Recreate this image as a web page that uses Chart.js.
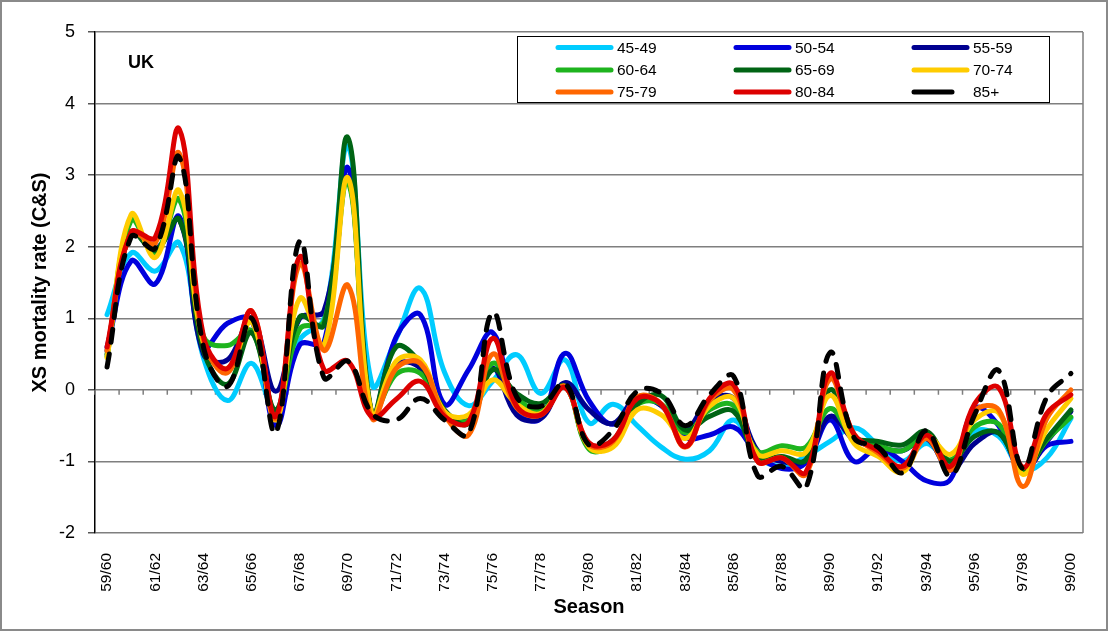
<!DOCTYPE html>
<html>
<head>
<meta charset="utf-8">
<script src="https://cdn.jsdelivr.net/npm/chart.js@4.4.1/dist/chart.umd.min.js"></script>
<style>
  html, body { margin: 0; padding: 0; background: #fff; }
  canvas { display: block; }
</style>
</head>
<body>
<canvas id="grafico" width="1108" height="631"></canvas>
<script>
const seasons = ['59/60', '60/61', '61/62', '62/63', '63/64', '64/65', '65/66', '66/67', '67/68', '68/69',
  '69/70', '70/71', '71/72', '72/73', '73/74', '74/75', '75/76', '76/77', '77/78', '78/79',
  '79/80', '80/81', '81/82', '82/83', '83/84', '84/85', '85/86', '86/87', '87/88', '88/89',
  '89/90', '90/91', '91/92', '92/93', '93/94', '94/95', '95/96', '96/97', '97/98', '98/99', '99/00'];

const ageGroups = ['45-49', '50-54', '55-59', '60-64', '65-69', '70-74', '75-79', '80-84', '85+'];
const colores = ['#00ccff', '#0000dd', '#000090', '#1eb41e', '#006414', '#ffcc00', '#ff6600', '#dd0000', '#000000'];

const s4549 = [1.05, 1.91, 1.66, 2.05, 0.45, -0.15, 0.37, -0.3, 0.7, 1.0, 3.4, 0.07, 0.72, 1.42, 0.25, -0.22, 0.12, 0.49, -0.05, 0.42,
  -0.46, -0.2, -0.5, -0.8, -0.97, -0.85, -0.42, -0.93, -1.07, -0.93, -0.72, -0.53, -0.77, -1.0, -0.75, -1.0, -0.58, -0.65, -1.12, -0.95, -0.4];
const s5054 = [0.6, 1.8, 1.48, 2.42, 0.6, 0.93, 0.97, -0.5, 0.63, 0.66, 3.1, -0.35, 0.74, 1.05, -0.2, 0.28, 0.8, -0.3, -0.4, 0.51,
  -0.15, -0.48, -0.15, -0.22, -0.66, -0.63, -0.52, -0.9, -1.1, -1.02, -0.42, -1.0, -0.82, -1.0, -1.27, -1.25, -0.26, -0.5, -1.15, -0.78, -0.72];
const s5559 = [0.55, 2.2, 1.97, 2.38, 0.5, 0.42, 1.0, -0.02, 1.0, 1.1, 2.95, -0.35, 0.35, 0.3, -0.3, -0.4, 0.3, -0.35, -0.4, 0.1,
  -0.28, -0.47, -0.1, -0.22, -0.55, -0.15, -0.12, -0.85, -1.0, -0.98, -0.37, -0.7, -0.8, -0.85, -0.68, -1.12, -0.75, -0.6, -1.12, -0.72, -0.3];
const s6064 = [0.47, 2.37, 1.92, 2.66, 0.75, 0.62, 0.82, -0.3, 0.85, 0.95, 2.9, -0.35, 0.22, 0.23, -0.3, -0.42, 0.37, -0.1, -0.3, 0.05,
  -0.83, -0.75, -0.21, -0.2, -0.6, -0.28, -0.22, -0.86, -0.78, -0.8, -0.26, -0.68, -0.78, -0.85, -0.65, -0.98, -0.52, -0.48, -1.12, -0.7, -0.38];
const s6569 = [0.5, 2.2, 1.95, 2.38, 0.55, 0.08, 0.8, -0.28, 1.02, 0.9, 3.52, -0.35, 0.6, 0.37, -0.28, -0.47, 0.28, -0.05, -0.19, 0.05,
  -0.8, -0.7, -0.2, -0.08, -0.56, -0.37, -0.3, -0.95, -0.93, -0.98, 0.0, -0.65, -0.72, -0.77, -0.58, -1.0, -0.65, -0.6, -1.1, -0.68, -0.28];
const s7074 = [0.45, 2.45, 1.85, 2.78, 0.65, 0.3, 0.95, -0.42, 1.28, 0.62, 2.96, -0.35, 0.4, 0.42, -0.3, -0.35, 0.14, -0.2, -0.33, 0.04,
  -0.8, -0.8, -0.28, -0.35, -0.68, -0.23, -0.12, -0.9, -0.85, -0.87, -0.08, -0.75, -0.93, -1.15, -0.65, -0.9, -0.42, -0.32, -1.18, -0.55, -0.12];
const s7579 = [0.55, 2.2, 2.05, 3.3, 0.7, 0.24, 1.1, -0.4, 1.76, 0.55, 1.46, -0.4, 0.3, 0.37, -0.35, -0.63, 0.5, -0.25, -0.35, 0.05,
  -0.76, -0.72, -0.1, -0.2, -0.8, -0.15, 0.0, -1.0, -0.95, -1.18, 0.15, -0.62, -0.88, -1.1, -0.68, -1.12, -0.3, -0.28, -1.35, -0.4, 0.0];
const s8084 = [0.6, 2.2, 2.13, 3.64, 0.75, 0.3, 1.1, -0.37, 1.86, 0.28, 0.4, -0.38, -0.13, 0.12, -0.37, -0.45, 0.72, -0.23, -0.35, 0.03,
  -0.74, -0.7, -0.12, -0.2, -0.79, -0.12, 0.07, -1.0, -0.95, -1.15, 0.23, -0.62, -0.85, -1.07, -0.63, -1.07, -0.2, 0.03, -1.08, -0.33, -0.07];
const s85plus = [0.32, 2.14, 1.98, 3.25, 0.6, 0.05, 1.0, -0.6, 2.08, 0.17, 0.4, -0.33, -0.42, -0.12, -0.42, -0.62, 1.08, -0.1, -0.23, 0.09,
  -0.77, -0.56, -0.02, -0.05, -0.5, -0.07, 0.19, -1.2, -1.07, -1.37, 0.52, -0.67, -0.8, -1.16, -0.57, -1.2, -0.35, 0.27, -1.1, -0.1, 0.23];

const series = [s4549, s5054, s5559, s6064, s6569, s7074, s7579, s8084, s85plus];

const fuente = "'Liberation Sans', Arial, sans-serif";
Chart.defaults.font.family = fuente;
Chart.defaults.color = '#000';

// marcas del eje de categorias sobre la linea del cero y borde derecho del area
const marcasCero = {
  id: 'marcasCero',
  beforeDatasetsDraw(chart) {
    const { ctx, chartArea, scales } = chart;
    const y0 = scales.y.getPixelForValue(0);
    const paso = chartArea.width / seasons.length;
    ctx.save();
    ctx.strokeStyle = '#7f7f7f';
    ctx.lineWidth = 1.5;
    ctx.beginPath();
    for (let k = 0; k <= seasons.length; k++) {
      const x = chartArea.left + k * paso;
      ctx.moveTo(x, y0);
      ctx.lineTo(x, y0 + 5);
    }
    ctx.moveTo(chartArea.right, chartArea.top);
    ctx.lineTo(chartArea.right, chartArea.bottom);
    ctx.stroke();
    ctx.restore();
  }
};

// leyenda en recuadro de 3 columnas, etiqueta UK y marco exterior
const leyendaCaja = {
  id: 'leyendaCaja',
  afterDraw(chart) {
    const { ctx } = chart;
    ctx.save();
    ctx.fillStyle = '#fff';
    ctx.fillRect(517, 36, 532, 66);
    ctx.strokeStyle = '#000';
    ctx.lineWidth = 1;
    ctx.strokeRect(517.5, 36.5, 532, 66);
    const cols = [556, 734, 912];
    const filas = [47.5, 70, 92];
    ctx.font = '15.5px ' + fuente;
    ctx.textBaseline = 'middle';
    chart.data.datasets.forEach((ds, i) => {
      const x = cols[i % 3];
      const y = filas[Math.floor(i / 3)];
      ctx.strokeStyle = ds.borderColor;
      ctx.lineWidth = 5;
      ctx.lineCap = 'round';
      ctx.beginPath();
      ctx.moveTo(x + 2, y);
      ctx.lineTo(x + (ds.borderDash ? 40 : 55), y);
      ctx.stroke();
      ctx.fillStyle = '#000';
      ctx.fillText(ds.label, x + 61, y + 1);
    });
    ctx.font = 'bold 18px ' + fuente;
    ctx.fillText('UK', 128, 63);
    ctx.strokeStyle = '#8a8a8a';
    ctx.lineWidth = 2;
    ctx.strokeRect(1, 1, 1106, 629);
    ctx.restore();
  }
};

const datasets = ageGroups.map((g, i) => ({
  label: g,
  data: series[i],
  borderColor: colores[i],
  backgroundColor: colores[i],
  borderWidth: 5,
  pointRadius: 0,
  tension: 0.4,
  fill: false,
  borderCapStyle: 'round',
  borderJoinStyle: 'round',
  borderDash: g === '85+' ? [13, 12] : undefined,
  order: ageGroups.length - 1 - i
}));

new Chart(document.getElementById('grafico'), {
  type: 'line',
  data: { labels: seasons, datasets: datasets },
  options: {
    responsive: false,
    animation: false,
    layout: { padding: { left: 0, top: 32, right: 25, bottom: 0 } },
    plugins: { legend: { display: false }, tooltip: { enabled: false } },
    scales: {
      x: {
        type: 'category',
        offset: true,
        grid: { display: false },
        border: { display: false },
        ticks: {
          autoSkip: false,
          minRotation: 90,
          maxRotation: 90,
          padding: 12,
          font: { size: 15.5 },
          callback: (v, i) => (i % 2 === 0 ? seasons[i] : '')
        },
        title: { display: true, text: 'Season', font: { size: 20, weight: 'bold' }, padding: { top: 0, bottom: 12 } },
        afterFit: (scale) => { scale.height = 98; }
      },
      y: {
        min: -2,
        max: 5,
        ticks: { stepSize: 1, padding: 13, font: { size: 18 } },
        grid: { color: '#7f7f7f', lineWidth: 1.5, tickLength: 7, tickColor: '#555' },
        border: { color: '#000', width: 1.5 },
        title: { display: true, text: 'XS mortality rate (C&S)', font: { size: 20, weight: 'bold' }, padding: { top: 28, bottom: 0 } },
        afterFit: (scale) => { scale.width = 95; }
      }
    }
  },
  plugins: [marcasCero, leyendaCaja]
});
</script>
</body>
</html>
